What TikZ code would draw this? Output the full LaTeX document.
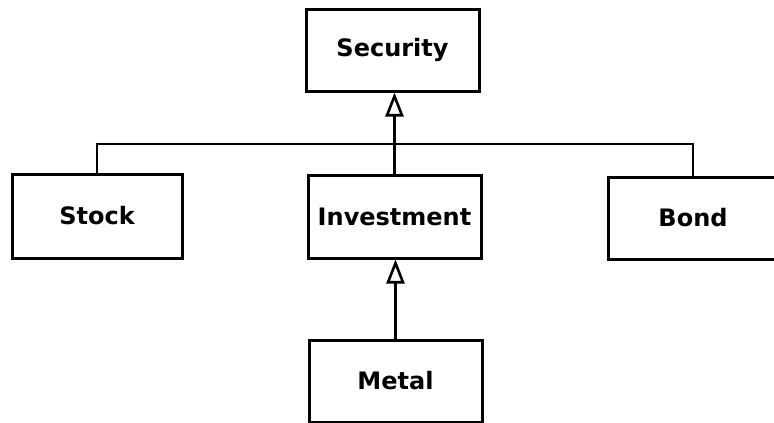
\documentclass[tikz,border=0pt]{standalone}
\usepackage{fontspec}
\setmainfont{DejaVu Sans}
\usetikzlibrary{arrows.meta}
\begin{document}
\begin{tikzpicture}[x=1pt,y=-1pt,
  cls/.style={draw, line width=3pt, rectangle, inner sep=0pt,
    font=\fontsize{24}{28}\selectfont\bfseries},
  link/.style={line width=2.8pt},
  inherit/.style={link, -{Triangle[open, length=24pt, width=18pt, line width=2.6pt]}}]
\useasboundingbox (0,0) rectangle (774,423);
\fill[white] (0,0) rectangle (774,423);
\node[cls, minimum width=173pt, minimum height=82pt] (Security) at (392.5,50) {Security};
\node[cls, minimum width=170pt, minimum height=84pt] (Stock) at (97,216) {Stock};
\node[cls, minimum width=173pt, minimum height=83pt] (Investment) at (394.5,216.5) {Investment};
\node[cls, minimum width=170pt, minimum height=82pt] (Bond) at (693,218) {Bond};
\node[cls, minimum width=173pt, minimum height=82pt] (Metal) at (395.5,381) {Metal};
\coordinate (bar) at (0,144);
\draw[link] (Stock.north) |- (bar -| Bond.north) -- (Bond.north);
\draw[inherit] (Investment.north) -- (Investment.north |- Security.south);
\draw[inherit] (Metal.north) -- (Metal.north |- Investment.south);
\end{tikzpicture}
\end{document}
